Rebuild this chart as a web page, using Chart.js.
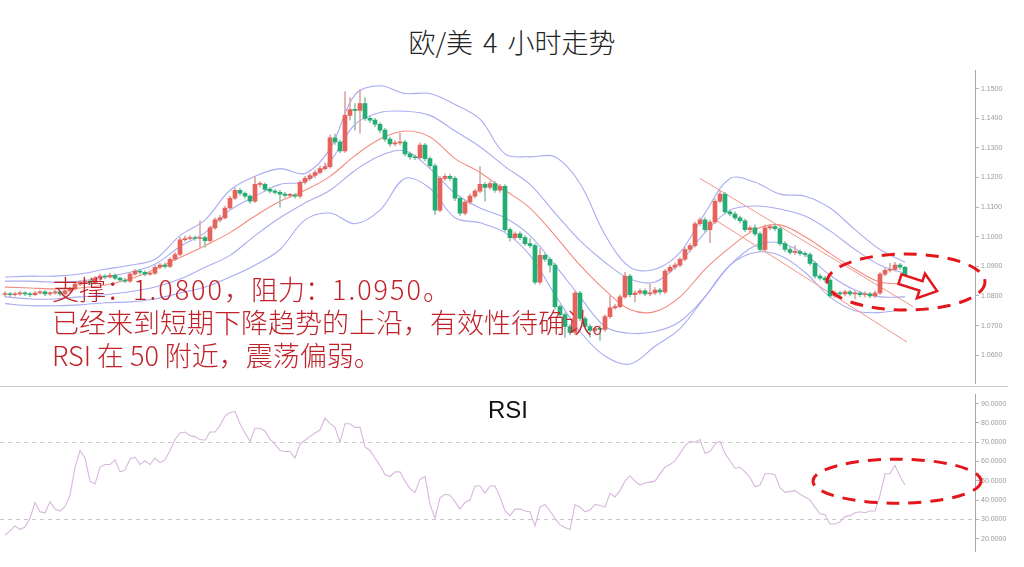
<!DOCTYPE html>
<html>
<head>
<meta charset="utf-8">
<script src="https://cdn.jsdelivr.net/npm/chart.js@4.4.1/dist/chart.umd.min.js"></script>
<style>
  body { margin: 0; background: #fff; width: 1024px; height: 567px; overflow: hidden; position: relative; font-family: "Noto Sans CJK SC", sans-serif; }
  #title { position: absolute; top: 22px; left: 0; width: 1024px; text-align: center; font-size: 27px; font-weight: 300; color: #222; word-spacing: 4px; }
  #main { position: absolute; left: 0; top: 60px; }
  #rsi { position: absolute; left: 0; top: 388px; }
  #sep { position: absolute; left: 0; top: 386px; width: 1008px; border-top: 1px solid #c8c8c8; }
  #note { position: absolute; left: 52px; top: 272px; font-size: 27px; font-weight: 300; line-height: 33px; color: #c0222a; white-space: nowrap; }
  #note .num { letter-spacing: 2px; }
  #rsiLabel { position: absolute; left: 488px; top: 396px; font: 24px "Liberation Sans", Arial, sans-serif; color: #111; }
</style>
</head>
<body>
<div id="title">欧/美 4 小时走势</div>
<canvas id="main" width="1024" height="330"></canvas>
<div id="sep"></div>
<canvas id="rsi" width="1024" height="170"></canvas>
<div id="rsiLabel">RSI</div>
<div id="note">支撑：<span class="num">1.0800</span>，阻力：<span class="num">1.0950</span>。<br>已经来到短期下降趋势的上沿，有效性待确认。<br>RSI 在 50 附近，震荡偏弱。</div>

<script>
// EUR/USD 4h candles
const openPrices = [
  1.0805,1.0807,1.0804,1.0807,1.0810,1.0807,1.0804,1.0810,1.0814,1.0807,
  1.0810,1.0814,1.0807,1.0817,1.0824,1.0840,1.0847,1.0850,1.0844,1.0860,
  1.0867,1.0864,1.0870,1.0860,1.0854,1.0850,1.0874,1.0884,1.0880,1.0874,
  1.0877,1.0897,1.0904,1.0900,1.0924,1.0940,1.0990,1.0994,1.0997,1.0994,
  1.0997,1.0987,1.1030,1.1057,1.1064,1.1097,1.1130,1.1157,1.1147,1.1137,
  1.1120,1.1177,1.1177,1.1160,1.1154,1.1150,1.1144,1.1140,1.1140,1.1137,
  1.1184,1.1197,1.1207,1.1217,1.1230,1.1237,1.1334,1.1320,1.1290,1.1410,
  1.1430,1.1427,1.1450,1.1400,1.1394,1.1380,1.1360,1.1330,1.1314,1.1317,
  1.1320,1.1280,1.1270,1.1267,1.1310,1.1264,1.1240,1.1090,1.1197,1.1204,
  1.1197,1.1130,1.1080,1.1117,1.1137,1.1154,1.1177,1.1167,1.1180,1.1157,
  1.1170,1.1024,1.0997,1.1010,1.0997,1.0977,1.0970,1.0847,1.0937,1.0924,
  1.0904,1.0764,1.0737,1.0697,1.0677,1.0810,1.0724,1.0697,1.0684,1.0690,
  1.0687,1.0730,1.0760,1.0764,1.0797,1.0867,1.0804,1.0810,1.0817,1.0807,
  1.0810,1.0820,1.0814,1.0884,1.0897,1.0904,1.0924,1.0957,1.0970,1.1044,
  1.1057,1.1024,1.1050,1.1120,1.1144,1.1084,1.1077,1.1064,1.1054,1.1024,
  1.1030,1.1010,1.0957,1.1030,1.1034,1.1027,1.0977,1.0957,1.0947,1.0950,
  1.0944,1.0940,1.0910,1.0867,1.0860,1.0854,1.0800,1.0810,1.0807,1.0814,
  1.0807,1.0810,1.0804,1.0807,1.0800,1.0810,1.0874,1.0887,1.0890,1.0904,
  1.0897
];
const closePrices = [
  1.0807,1.0804,1.0807,1.0810,1.0807,1.0804,1.0810,1.0814,1.0807,1.0810,
  1.0814,1.0807,1.0817,1.0824,1.0840,1.0847,1.0850,1.0844,1.0860,1.0867,
  1.0864,1.0870,1.0860,1.0854,1.0850,1.0874,1.0884,1.0880,1.0874,1.0877,
  1.0897,1.0904,1.0900,1.0924,1.0940,1.0990,1.0994,1.0997,1.0994,1.0997,
  1.0987,1.1030,1.1057,1.1064,1.1097,1.1130,1.1157,1.1147,1.1137,1.1120,
  1.1177,1.1177,1.1160,1.1154,1.1150,1.1144,1.1140,1.1140,1.1137,1.1184,
  1.1197,1.1207,1.1217,1.1230,1.1237,1.1334,1.1320,1.1290,1.1410,1.1430,
  1.1427,1.1450,1.1400,1.1394,1.1380,1.1360,1.1330,1.1314,1.1317,1.1320,
  1.1280,1.1270,1.1267,1.1310,1.1264,1.1240,1.1090,1.1197,1.1204,1.1197,
  1.1130,1.1080,1.1117,1.1137,1.1154,1.1177,1.1167,1.1180,1.1157,1.1170,
  1.1024,1.0997,1.1010,1.0997,1.0977,1.0970,1.0847,1.0937,1.0924,1.0904,
  1.0764,1.0737,1.0697,1.0677,1.0810,1.0724,1.0697,1.0684,1.0690,1.0687,
  1.0730,1.0760,1.0764,1.0797,1.0867,1.0804,1.0810,1.0817,1.0807,1.0810,
  1.0820,1.0814,1.0884,1.0897,1.0904,1.0924,1.0957,1.0970,1.1044,1.1057,
  1.1024,1.1050,1.1120,1.1144,1.1084,1.1077,1.1064,1.1054,1.1024,1.1030,
  1.1010,1.0957,1.1030,1.1034,1.1027,1.0977,1.0957,1.0947,1.0950,1.0944,
  1.0940,1.0910,1.0867,1.0860,1.0854,1.0800,1.0810,1.0807,1.0814,1.0807,
  1.0810,1.0804,1.0807,1.0800,1.0810,1.0874,1.0887,1.0890,1.0904,1.0897,
  1.0870
];
const highPrices = [
  1.0815,1.0812,1.0813,1.0816,1.0815,1.0812,1.0816,1.0820,1.0818,1.0815,
  1.0820,1.0818,1.0822,1.0830,1.0846,1.0853,1.0857,1.0856,1.0866,1.0874,
  1.0872,1.0877,1.0875,1.0865,1.0860,1.0880,1.0890,1.0890,1.0886,1.0884,
  1.0903,1.0910,1.0912,1.0930,1.0947,1.0998,1.1002,1.1004,1.1003,1.1054,
  1.1003,1.1036,1.1064,1.1072,1.1104,1.1137,1.1165,1.1163,1.1152,1.1142,
  1.1204,1.1186,1.1182,1.1166,1.1160,1.1157,1.1150,1.1147,1.1146,1.1190,
  1.1204,1.1214,1.1224,1.1240,1.1250,1.1344,1.1347,1.1327,1.1490,1.1470,
  1.1450,1.1497,1.1470,1.1407,1.1400,1.1386,1.1366,1.1337,1.1325,1.1350,
  1.1326,1.1286,1.1277,1.1317,1.1316,1.1270,1.1246,1.1204,1.1212,1.1212,
  1.1203,1.1137,1.1124,1.1144,1.1160,1.1237,1.1184,1.1187,1.1186,1.1177,
  1.1176,1.1030,1.1017,1.1017,1.1004,1.0994,1.0976,1.0960,1.0944,1.0930,
  1.0910,1.0770,1.0744,1.0704,1.0817,1.0816,1.0730,1.0704,1.0697,1.0700,
  1.0736,1.0800,1.0772,1.0804,1.0880,1.0873,1.0817,1.0824,1.0824,1.0840,
  1.0828,1.0826,1.0890,1.0904,1.0912,1.0930,1.0964,1.0977,1.1050,1.1064,
  1.1064,1.1057,1.1127,1.1154,1.1150,1.1090,1.1084,1.1070,1.1060,1.1037,
  1.1040,1.1017,1.1040,1.1042,1.1040,1.1033,1.0984,1.0964,1.0970,1.0957,
  1.0950,1.0946,1.0916,1.0874,1.0866,1.0860,1.0817,1.0816,1.0820,1.0820,
  1.0817,1.0816,1.0814,1.0812,1.0817,1.0880,1.0894,1.0910,1.0914,1.0910,
  1.0900
];
const lowPrices = [
  1.0798,1.0798,1.0799,1.0802,1.0801,1.0797,1.0800,1.0806,1.0801,1.0802,
  1.0805,1.0800,1.0802,1.0812,1.0820,1.0835,1.0842,1.0838,1.0840,1.0855,
  1.0858,1.0860,1.0855,1.0848,1.0845,1.0846,1.0870,1.0874,1.0868,1.0869,
  1.0872,1.0892,1.0894,1.0896,1.0920,1.0936,1.0984,1.0989,1.0988,1.0964,
  1.0965,1.0982,1.1025,1.1050,1.1060,1.1092,1.1125,1.1140,1.1130,1.1113,
  1.1115,1.1168,1.1154,1.1147,1.1144,1.1100,1.1134,1.1133,1.1130,1.1130,
  1.1178,1.1190,1.1200,1.1212,1.1225,1.1232,1.1312,1.1284,1.1285,1.1395,
  1.1360,1.1350,1.1393,1.1385,1.1372,1.1352,1.1322,1.1305,1.1307,1.1310,
  1.1272,1.1262,1.1260,1.1262,1.1256,1.1232,1.1075,1.1084,1.1190,1.1190,
  1.1122,1.1072,1.1074,1.1110,1.1130,1.1148,1.1120,1.1160,1.1150,1.1150,
  1.1017,1.0985,1.0990,1.0990,1.0970,1.0962,1.0840,1.0840,1.0917,1.0880,
  1.0755,1.0728,1.0660,1.0668,1.0670,1.0716,1.0690,1.0660,1.0676,1.0650,
  1.0680,1.0724,1.0755,1.0760,1.0792,1.0797,1.0780,1.0804,1.0800,1.0800,
  1.0804,1.0806,1.0808,1.0878,1.0890,1.0898,1.0918,1.0950,1.0965,1.1038,
  1.1016,1.0980,1.1044,1.1114,1.1077,1.1070,1.1057,1.1047,1.1017,1.1017,
  1.1003,1.0950,1.0950,1.1024,1.1020,1.0970,1.0950,1.0940,1.0940,1.0937,
  1.0933,1.0904,1.0860,1.0853,1.0847,1.0794,1.0794,1.0800,1.0800,1.0800,
  1.0790,1.0797,1.0797,1.0793,1.0794,1.0804,1.0868,1.0880,1.0884,1.0890,
  1.0864
];

// Bollinger-style bands, sampled every 5 candles
const bandIdx = [0,5,10,15,20,25,30,35,40,45,50,55,60,65,70,75,80,85,90,95,100,105,110,115,120,125,130,135,140,145,150,155,160,165,170,175,180];
const upperOuter = [1.0864,1.0867,1.0867,1.0874,1.0890,1.0904,1.0924,1.1004,1.1057,1.1157,1.1204,1.1230,1.1214,1.1297,1.1480,1.1510,1.1484,1.1484,1.1447,1.1397,1.1280,1.1270,1.1270,1.1180,1.1007,1.0897,1.0890,1.0947,1.1080,1.1197,1.1184,1.1144,1.1137,1.1097,1.1024,1.0957,1.0914];
const upperInner = [1.0850,1.0850,1.0847,1.0850,1.0864,1.0880,1.0907,1.0967,1.1014,1.1090,1.1137,1.1177,1.1187,1.1254,1.1380,1.1420,1.1424,1.1410,1.1357,1.1304,1.1237,1.1177,1.1080,1.0987,1.0914,1.0857,1.0847,1.0914,1.1014,1.1090,1.1104,1.1094,1.1070,1.1020,1.0957,1.0904,1.0877];
const middleBand = [1.0830,1.0827,1.0824,1.0827,1.0837,1.0857,1.0890,1.0930,1.0970,1.1014,1.1070,1.1120,1.1157,1.1204,1.1274,1.1330,1.1357,1.1337,1.1264,1.1217,1.1157,1.1097,1.1004,1.0904,1.0820,1.0754,1.0747,1.0797,1.0890,1.0964,1.1024,1.1040,1.1000,1.0944,1.0890,1.0847,1.0840];
const lowerInner = [1.0797,1.0790,1.0790,1.0797,1.0804,1.0814,1.0830,1.0857,1.0897,1.0937,1.1004,1.1064,1.1114,1.1157,1.1224,1.1274,1.1290,1.1230,1.1147,1.1097,1.1064,1.1004,1.0904,1.0797,1.0697,1.0674,1.0680,1.0714,1.0797,1.0904,1.0970,1.0980,1.0940,1.0870,1.0820,1.0797,1.0797];
const lowerOuter = [1.0774,1.0767,1.0767,1.0770,1.0777,1.0780,1.0790,1.0810,1.0830,1.0864,1.0904,1.0957,1.1057,1.1080,1.1044,1.1090,1.1197,1.1164,1.1064,1.1047,1.1014,1.0937,1.0804,1.0680,1.0597,1.0570,1.0630,1.0690,1.0797,1.0904,1.0947,1.0937,1.0880,1.0797,1.0750,1.0744,1.0757];

// short-term down channel (candle index, price)
const channelTop = [[139, 1.1197], [181.6, 1.0764]];
const channelBottom = [[141.4, 1.1064], [180.4, 1.0644]];

// RSI per candle
const rsiValues = [
  21.8,24.0,26.6,24.7,26.0,30.5,38.7,33.9,33.4,39.2,
  35.3,34.3,36.7,42.5,57.0,65.7,61.8,49.8,48.3,57.0,
  58.4,58.4,60.8,54.6,55.5,61.3,62.3,58.4,60.4,58.4,
  61.8,59.4,60.8,65.7,71.4,74.8,75.3,73.4,72.9,71.4,
  71.0,75.3,75.3,78.7,83.5,85.4,85.9,79.6,74.8,70.5,
  77.2,77.2,75.8,71.4,69.0,65.7,65.2,65.2,61.8,69.0,
  71.0,72.9,74.8,76.3,82.5,79.6,77.7,70.0,79.6,79.6,
  77.7,77.7,67.6,65.7,61.8,58.0,53.1,52.2,54.6,54.6,
  49.8,45.9,44.0,50.7,52.2,37.7,30.5,41.1,43.0,42.5,
  39.2,35.3,38.7,40.1,47.3,47.3,43.5,47.3,47.3,41.6,
  34.3,31.9,35.3,35.3,34.3,33.9,26.6,36.3,37.7,34.3,
  30.5,27.1,25.7,24.7,37.7,36.3,33.9,34.8,37.7,37.2,
  36.3,43.5,41.6,44.9,49.8,52.6,49.8,47.8,48.8,49.3,
  49.8,53.6,57.0,58.4,60.4,64.2,68.1,70.5,70.0,71.4,
  64.2,65.2,69.0,70.5,64.2,60.4,56.5,57.0,54.6,51.7,
  46.9,47.8,53.6,53.6,53.1,46.4,44.0,44.5,44.9,43.0,
  41.6,40.1,36.3,32.9,32.4,27.6,27.6,28.6,31.4,31.9,
  33.4,33.9,33.4,34.3,34.3,42.5,53.6,53.6,58.0,52.2,
  47.8
];

const upColor = '#e6625a';
const downColor = '#22ad74';
const blueBand = '#a9acf2';
const redBand = '#f48b7e';

const bodyData = closePrices.map((c, i) => ({ x: i, y: [openPrices[i], c] }));
const wickData = closePrices.map((c, i) => ({ x: i, y: [lowPrices[i], highPrices[i]] }));
const bodyColors = closePrices.map((c, i) => c >= openPrices[i] ? upColor : downColor);
const wickColors = closePrices.map((c, i) => c >= openPrices[i] ? '#d9a9a4' : '#98c4ae');

function bandLine(values, color) {
  return {
    type: 'line', data: values.map((v, k) => ({ x: bandIdx[k], y: v })),
    borderColor: color, borderWidth: 1.1, pointRadius: 0, tension: 0.35, order: 3
  };
}
function straight(points) {
  return {
    type: 'line', data: points.map(p => ({ x: p[0], y: p[1] })),
    borderColor: '#f2958b', borderWidth: 1, pointRadius: 0, order: 3
  };
}

// red hand-drawn marks on the price panel
const mainMarks = {
  id: 'mainMarks',
  afterDraw(chart) {
    const { ctx, scales: { x, y } } = chart;
    ctx.save();
    ctx.strokeStyle = '#e3161b';
    ctx.lineWidth = 3;
    ctx.setLineDash([13, 9]);
    ctx.beginPath();
    ctx.ellipse(x.getPixelForValue(180.2), y.getPixelForValue(1.0847), 79, 28, 0, 0, Math.PI * 2);
    ctx.stroke();

    // hollow arrow pointing right-down
    ctx.setLineDash([]);
    ctx.lineWidth = 2.5;
    ctx.translate(x.getPixelForValue(179), y.getPixelForValue(1.0857));
    ctx.rotate(18 * Math.PI / 180);
    ctx.beginPath();
    ctx.moveTo(0, -5); ctx.lineTo(22, -5); ctx.lineTo(22, -13); ctx.lineTo(39, 0);
    ctx.lineTo(22, 13); ctx.lineTo(22, 5); ctx.lineTo(0, 5); ctx.closePath();
    ctx.fillStyle = '#fff';
    ctx.fill();
    ctx.stroke();
    ctx.restore();
  }
};

const rsiMarks = {
  id: 'rsiMarks',
  afterDraw(chart) {
    const { ctx, scales: { x, y } } = chart;
    ctx.save();
    ctx.strokeStyle = '#e3161b';
    ctx.lineWidth = 3;
    ctx.setLineDash([13, 9]);
    ctx.beginPath();
    ctx.ellipse(x.getPixelForValue(178.4), y.getPixelForValue(49.8), 84, 22, 0, 0, Math.PI * 2);
    ctx.stroke();
    ctx.restore();
  }
};

const axisFont = { size: 7, family: 'Liberation Sans' };

const mainChart = new Chart(document.getElementById('main'), {
  type: 'bar',
  data: {
    datasets: [
      straight(channelTop),
      straight(channelBottom),
      bandLine(upperOuter, blueBand),
      bandLine(upperInner, blueBand),
      bandLine(middleBand, redBand),
      bandLine(lowerInner, blueBand),
      bandLine(lowerOuter, blueBand),
      { type: 'bar', data: wickData, backgroundColor: wickColors, barThickness: 1, grouped: false, order: 2 },
      { type: 'bar', data: bodyData, backgroundColor: bodyColors, barThickness: 4, minBarLength: 1, grouped: false, order: 1 }
    ]
  },
  options: {
    responsive: false,
    animation: false,
    devicePixelRatio: 1,
    layout: { padding: { top: 10, bottom: 2, left: 0, right: 0 } },
    plugins: { legend: { display: false }, tooltip: { enabled: false } },
    scales: {
      x: { type: 'linear', min: -1, max: 194, display: false, offset: false },
      y: {
        position: 'right', min: 1.05033, max: 1.15633,
        afterFit(scale) { scale.width = 49; },
        ticks: { stepSize: 0.01, includeBounds: false, callback: v => v.toFixed(4), font: axisFont, color: '#999', padding: 2 },
        grid: { drawOnChartArea: false, tickLength: 4, color: '#b5b5b5' },
        border: { color: '#a8a8a8' }
      }
    }
  },
  plugins: [mainMarks]
});

const rsiChart = new Chart(document.getElementById('rsi'), {
  type: 'line',
  data: {
    datasets: [{
      data: rsiValues.map((v, i) => ({ x: i, y: v })),
      borderColor: '#d8b6de', borderWidth: 1.1, pointRadius: 0, tension: 0
    }]
  },
  options: {
    responsive: false,
    animation: false,
    devicePixelRatio: 1,
    layout: { padding: { top: 0, bottom: 3, left: 0, right: 0 } },
    plugins: { legend: { display: false }, tooltip: { enabled: false } },
    scales: {
      x: { type: 'linear', min: -1, max: 194, display: false },
      y: {
        position: 'right', min: 13.15, max: 94.9,
        afterFit(scale) { scale.width = 49; },
        ticks: { stepSize: 10, includeBounds: false, callback: v => v.toFixed(4), font: axisFont, color: '#999', padding: 2 },
        grid: {
          tickLength: 4, tickColor: '#b5b5b5', tickBorderDash: [],
          color: c => (c.tick && (c.tick.value === 30 || c.tick.value === 70)) ? '#c9c9c9' : 'rgba(0,0,0,0)'
        },
        border: { color: '#a8a8a8', dash: [4, 4] }
      }
    }
  },
  plugins: [rsiMarks]
});
</script>
</body>
</html>
